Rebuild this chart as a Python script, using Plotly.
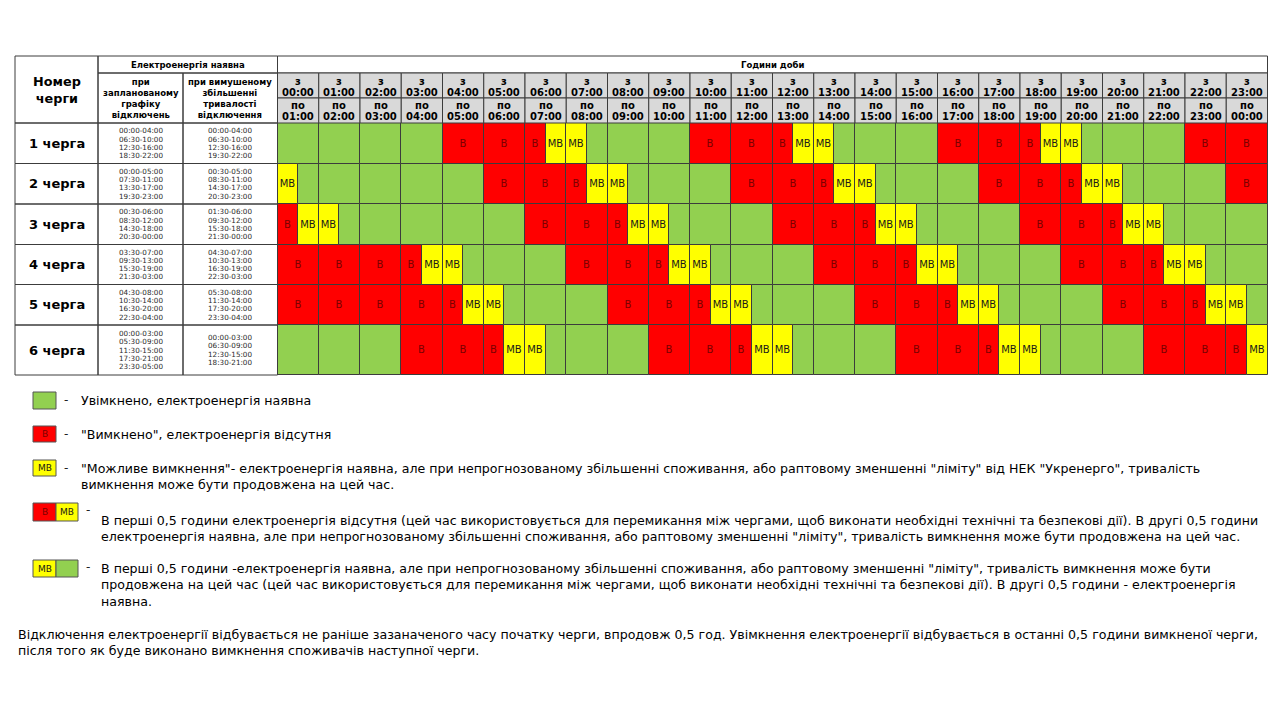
import plotly.graph_objects as go

# ---- data ----
QUEUES = ["1 черга", "2 черга", "3 черга", "4 черга", "5 черга", "6 черга"]

HOUR_FROM = ["00:00", "01:00", "02:00", "03:00", "04:00", "05:00", "06:00", "07:00",
             "08:00", "09:00", "10:00", "11:00", "12:00", "13:00", "14:00", "15:00",
             "16:00", "17:00", "18:00", "19:00", "20:00", "21:00", "22:00", "23:00"]
HOUR_TO = HOUR_FROM[1:] + HOUR_FROM[:1]

# per hour: G = on, R = off ("В"), Y = possible off ("МВ"); two letters = two half-hours
STATE_Q1 = "G G G G R R RY YG G G R R RY YG G G R R RY YG G G R R".split()
STATE_Q2 = "YG G G G G R R RY YG G G R R RY YG G G R R RY YG G G R".split()
STATE_Q3 = "RY YG G G G G R R RY YG G G R R RY YG G G R R RY YG G G".split()
STATE_Q4 = "R R R RY YG G G R R RY YG G G R R RY YG G G R R RY YG G".split()
STATE_Q5 = "R R R R RY YG G G R R RY YG G G R R RY YG G G R R RY YG".split()
STATE_Q6 = "G G G R R RY YG G G R R RY YG G G R R RY YG G G R R RY".split()
STATES = [STATE_Q1, STATE_Q2, STATE_Q3, STATE_Q4, STATE_Q5, STATE_Q6]

PLANNED = [
    ["00:00-04:00", "06:30-10:00", "12:30-16:00", "18:30-22:00"],
    ["00:00-05:00", "07:30-11:00", "13:30-17:00", "19:30-23:00"],
    ["00:30-06:00", "08:30-12:00", "14:30-18:00", "20:30-00:00"],
    ["03:30-07:00", "09:30-13:00", "15:30-19:00", "21:30-03:00"],
    ["04:30-08:00", "10:30-14:00", "16:30-20:00", "22:30-04:00"],
    ["00:00-03:00", "05:30-09:00", "11:30-15:00", "17:30-21:00", "23:30-05:00"],
]
FORCED = [
    ["00:00-04:00", "06:30-10:00", "12:30-16:00", "19:30-22:00"],
    ["00:30-05:00", "08:30-11:00", "14:30-17:00", "20:30-23:00"],
    ["01:30-06:00", "09:30-12:00", "15:30-18:00", "21:30-00:00"],
    ["04:30-07:00", "10:30-13:00", "16:30-19:00", "22:30-03:00"],
    ["05:30-08:00", "11:30-14:00", "17:30-20:00", "23:30-04:00"],
    ["00:00-03:00", "06:30-09:00", "12:30-15:00", "18:30-21:00"],
]

LEGEND_TEXT = [
    "Увімкнено, електроенергія наявна",
    "\"Вимкнено\", електроенергія відсутня",
    "\"Можливе вимкнення\"- електроенергія наявна, але при непрогнозованому збільшенні споживання, "
    "або раптовому зменшенні \"ліміту\" від НЕК \"Укренерго\", тривалість<br>"
    "вимкнення може бути продовжена на цей час.",
    "В перші 0,5 години електроенергія відсутня (цей час використовується для перемикання між чергами, "
    "щоб виконати необхідні технічні та безпекові дії). В другі 0,5 години<br>"
    "електроенергія наявна, але при непрогнозованому збільшенні споживання, або раптовому зменшенні "
    "\"ліміту\", тривалість вимкнення може бути продовжена на цей час.",
    "В перші 0,5 години -електроенергія наявна, але при непрогнозованому збільшенні споживання, "
    "або раптовому зменшенні \"ліміту\", тривалість вимкнення може бути<br>"
    "продовжена на цей час (цей час використовується для перемикання між чергами, щоб виконати "
    "необхідні технічні та безпекові дії). В другі 0,5 години - електроенергія<br>"
    "наявна.",
]
FOOTER = ("Відключення електроенергії відбувається не раніше зазаначеного часу початку черги, "
          "впродовж 0,5 год. Увімкнення електроенергії відбувається в останні 0,5 години вимкненої черги,<br>"
          "після того як буде виконано вимкнення споживачів наступної черги.")

# ---- styles / layout ----
W, H = 1280, 720
H0, HW = 277.5, 41.25          # pixel x of hour 0, pixels per hour
ROW_EDGES = [123, 163.5, 204, 244.5, 284.5, 325, 375]
GREEN, RED, YELLOW, GRAY = "#92d050", "#ff0000", "#ffff00", "#d9d9d9"
LINE = "#3c3c3c"
FONT = "DejaVu Sans"
STYLE = {"G": (GREEN, "", "#000000"), "R": (RED, "В", "#7a0000"), "Y": (YELLOW, "МВ", "#1a1a1a")}


def px(p):
    return p / W


fig = go.Figure()

# schedule cells as horizontal bars on the hour axis
for key, (color, label, tcolor) in STYLE.items():
    base, length, yc, wid, txt = [], [], [], [], []
    for r, states in enumerate(STATES):
        for h, code in enumerate(states):
            n = len(code)
            for i, s in enumerate(code):
                if s != key:
                    continue
                base.append(h + i / n)
                length.append(1 / n)
                yc.append((ROW_EDGES[r] + ROW_EDGES[r + 1]) / 2)
                wid.append(ROW_EDGES[r + 1] - ROW_EDGES[r])
                txt.append(label)
    fig.add_trace(go.Bar(
        orientation="h", base=base, x=length, y=yc, width=wid,
        marker=dict(color=color, line=dict(color=LINE, width=1)),
        text=txt, textposition="inside", insidetextanchor="middle", textangle=0,
        textfont=dict(family=FONT, size=10, color=tcolor),
        hoverinfo="skip", showlegend=False, cliponaxis=False,
    ))

shapes, ann = [], []


def rect(x0, x1, y0, y1, fill="rgba(0,0,0,0)", xref="paper", lw=1):
    shapes.append(dict(type="rect", xref=xref, yref="y", x0=x0, x1=x1, y0=y0, y1=y1,
                       fillcolor=fill, line=dict(color=LINE, width=lw), layer="above"))


def text(x, y, t, size, xref="paper", color="#000000", xanchor="center", align="center"):
    ann.append(dict(xref=xref, yref="y", x=x, y=y, text=t, showarrow=False,
                    xanchor=xanchor, yanchor="middle", align=align,
                    font=dict(family=FONT, size=size, color=color)))


# header
rect(px(15), px(98), 56, 123)
rect(px(98), px(H0), 56, 73)
rect(px(98), px(183), 73, 123)
rect(px(183), px(H0), 73, 123)
rect(0, 24, 56, 73, xref="x")
for h in range(24):
    rect(h, h + 1, 73, 98, fill=GRAY, xref="x")
    rect(h, h + 1, 98, 123, fill=GRAY, xref="x")
    text(h + 0.5, 81.5, "<b>з</b>", 10, xref="x")
    text(h + 0.5, 92, "<b>%s</b>" % HOUR_FROM[h], 10, xref="x")
    text(h + 0.5, 105.5, "<b>по</b>", 10, xref="x")
    text(h + 0.5, 116.5, "<b>%s</b>" % HOUR_TO[h], 10, xref="x")

text(px(56.5), 90, "<b>Номер<br>черги</b>", 12.8)
text(px(188), 64.5, "<b>Електроенергія наявна</b>", 8.5)
text(12, 64.5, "<b>Години доби</b>", 8.5, xref="x")
text(px(140.5), 98, "<b>при<br>запланованому<br>графіку<br>відключень</b>", 8.5)
text(px(230), 98, "<b>при вимушеному<br>збільшенні<br>тривалості<br>відключення</b>", 8.5)

# left columns of each queue
for r, q in enumerate(QUEUES):
    y0, y1 = ROW_EDGES[r], ROW_EDGES[r + 1]
    yc = (y0 + y1) / 2
    rect(px(15), px(98), y0, y1)
    rect(px(98), px(183), y0, y1)
    rect(px(183), px(H0), y0, y1)
    text(px(56.5), yc, "<b>%s</b>" % q, 13)
    for col_x, times in ((140.5, PLANNED[r]), (230, FORCED[r])):
        n = len(times)
        for i, t in enumerate(times):
            text(px(col_x), yc + (i - (n - 1) / 2) * 8.3, t, 7.2, color="#2a2a2a")

# legend
LEG_SW = [
    [(33, 56, GREEN, "", "#000")],
    [(33, 56, RED, "В", "#7a0000")],
    [(33, 56, YELLOW, "МВ", "#1a1a1a")],
    [(33, 56, RED, "В", "#7a0000"), (56, 78, YELLOW, "МВ", "#1a1a1a")],
    [(33, 56, YELLOW, "МВ", "#1a1a1a"), (56, 78, GREEN, "", "#000")],
]
LEG_Y = [(392, 409), (426, 442), (460, 476), (503, 521), (560, 577)]
DASH = [(66, 400), (66, 434), (66, 468), (88, 510), (88, 567)]
TEXT_POS = [(79, 400), (79, 434), (79, 476), (99, 528.5), (99, 585)]
for k in range(5):
    ya, yb = LEG_Y[k]
    for xa, xb, c, lab, tc in LEG_SW[k]:
        shapes.append(dict(type="rect", xref="paper", yref="y", x0=px(xa), x1=px(xb), y0=ya, y1=yb,
                           fillcolor=c, line=dict(color="#555555", width=1)))
        if lab:
            text(px((xa + xb) / 2), (ya + yb) / 2, lab, 9, color=tc)
    text(px(DASH[k][0]), DASH[k][1], "-", 12, color="#222222")
    text(px(TEXT_POS[k][0]), TEXT_POS[k][1], LEGEND_TEXT[k], 12.6, xanchor="left", align="left")

text(px(16), 642.5, FOOTER, 12.6, xanchor="left", align="left")

fig.update_layout(
    width=W, height=H, margin=dict(l=0, r=0, t=0, b=0),
    paper_bgcolor="white", plot_bgcolor="white",
    barmode="overlay", bargap=0,
    uniformtext=dict(minsize=10, mode="show"),
    xaxis=dict(visible=False, range=[-H0 / HW, (W - H0) / HW], fixedrange=True),
    yaxis=dict(visible=False, range=[H, 0], fixedrange=True),
    shapes=shapes, annotations=ann, showlegend=False,
)

# page body has a default margin; drop it so the figure sits at the window origin
fig.write_html("out.html", config={"displayModeBar": False},
               post_script="document.body.style.margin='0px';")
